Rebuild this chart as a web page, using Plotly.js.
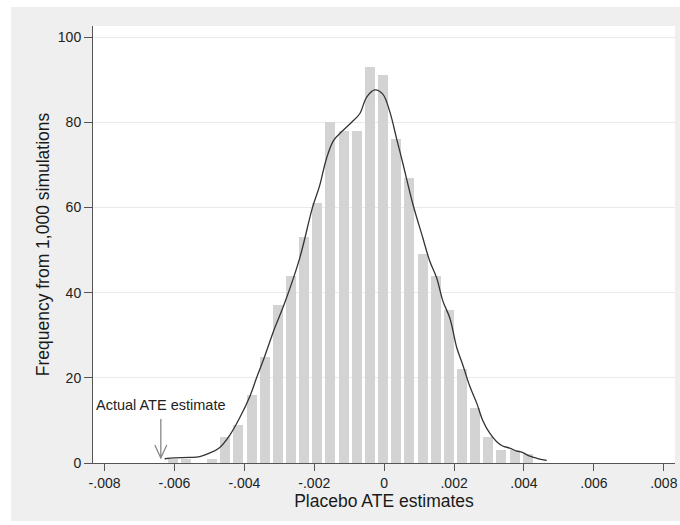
<!DOCTYPE html>
<html>
<head>
<meta charset="utf-8">
<script src="https://cdn.plot.ly/plotly-3.0.1.min.js"></script>
<style>
  html, body { margin: 0; padding: 0; background: #ffffff; width: 680px; height: 525px; overflow: hidden; }
  #chart { position: absolute; left: 11px; top: 7px; width: 669px; height: 514px; }
</style>
</head>
<body>
<div id="chart"></div>
<script>
// Histogram of placebo ATE estimates (bin centres and frequencies)
const binCenters = [-0.00605, -0.00567, -0.00530, -0.00492, -0.00455, -0.00417, -0.00379, -0.00342,
                    -0.00304, -0.00267, -0.00229, -0.00191, -0.00154, -0.00116, -0.00078, -0.00041,
                    -0.00003, 0.00034, 0.00072, 0.00110, 0.00147, 0.00185, 0.00223, 0.00260,
                    0.00298, 0.00335, 0.00373, 0.00411];
const frequency = [1, 1, 0, 1, 6, 9, 16, 25, 37, 44, 53, 61, 80, 78, 78, 93,
                   91, 76, 67, 49, 44, 36, 22, 13, 6, 3, 3, 2];

// Kernel density curve (scaled to frequency)
const kdeX = [-0.00628, -0.00600, -0.00557, -0.00528, -0.00500, -0.00471, -0.00442, -0.00414,
              -0.00385, -0.00365, -0.00342, -0.00314, -0.00285, -0.00242, -0.00205, -0.00185,
              -0.00165, -0.00145, -0.00119, -0.00093, -0.00070, -0.00050, -0.00027, -0.00004,
              0.00016, 0.00036, 0.00053, 0.00082, 0.00110, 0.00130, 0.00150, 0.00168,
              0.00188, 0.00208, 0.00225, 0.00245, 0.00265, 0.00282, 0.00302, 0.00322,
              0.00339, 0.00359, 0.00379, 0.00395, 0.00417, 0.00437, 0.00465];
const kdeY = [1.0, 1.2, 1.3, 1.5, 2.3, 3.6, 6.5, 10.5,
              15.5, 20, 25, 31.5, 37.5, 48, 60, 65,
              71.5, 75.7, 78, 80, 82, 85.9, 87.6, 86.6,
              82.5, 76, 70.5, 60.8, 53, 47.5, 43.5, 38,
              34, 27, 23, 18, 14, 10, 7, 5,
              4, 3.5, 2.8, 2.5, 1.6, 1.1, 0.6];

// Actual ATE estimate (marked with arrow)
const actualATE = -0.00639;
const actualLabel = "Actual ATE estimate";

// Axis ticks
const xTickVals = [-0.008, -0.006, -0.004, -0.002, 0, 0.002, 0.004, 0.006, 0.008];
const xTickText = ["-.008", "-.006", "-.004", "-.002", "0", ".002", ".004", ".006", ".008"];
const yTickVals = [0, 20, 40, 60, 80, 100];
const yTickText = ["0", "20", "40", "60", "80", "100"];

const xTitle = "Placebo ATE estimates";
const yTitle = "Frequency from 1,000 simulations";

const FONT = "Liberation Sans, Arial, sans-serif";

const traces = [
  {
    type: "bar",
    x: binCenters,
    y: frequency,
    width: 0.000288,
    marker: { color: "#d3d3d3", line: { width: 0 } },
    hoverinfo: "x+y",
    showlegend: false
  },
  {
    type: "scatter",
    mode: "lines",
    x: kdeX,
    y: kdeY,
    line: { color: "#333333", width: 1.3, shape: "spline", smoothing: 1 },
    showlegend: false
  }
];

const layout = {
  width: 669,
  height: 514,
  margin: { l: 82, r: 5, t: 19, b: 58 },
  paper_bgcolor: "#efefef",
  plot_bgcolor: "#ffffff",
  font: { family: FONT, size: 14, color: "#222222" },
  showlegend: false,
  bargap: 0,
  xaxis: {
    range: [-0.00833, 0.00832],
    tickmode: "array",
    tickvals: xTickVals,
    ticktext: xTickText,
    ticks: "outside",
    ticklen: 7,
    tickwidth: 1,
    tickcolor: "#555555",
    showgrid: false,
    zeroline: false,
    showline: true,
    linecolor: "#555555",
    linewidth: 1,
    tickfont: { family: FONT, size: 14, color: "#222222" },
    title: { text: xTitle, font: { family: FONT, size: 17.5, color: "#1a1a1a" }, standoff: 0 },
    automargin: false,
    fixedrange: true
  },
  yaxis: {
    range: [0, 102.6],
    tickmode: "array",
    tickvals: yTickVals,
    ticktext: yTickText,
    ticks: "outside",
    ticklen: 8,
    tickwidth: 1,
    tickcolor: "#555555",
    showgrid: true,
    gridcolor: "#eaeaea",
    gridwidth: 1,
    zeroline: false,
    showline: true,
    linecolor: "#555555",
    linewidth: 1,
    tickfont: { family: FONT, size: 14, color: "#222222" },
    title: { text: yTitle, font: { family: FONT, size: 17.5, color: "#1a1a1a" }, standoff: 3 },
    automargin: false,
    fixedrange: true
  },
  shapes: [
    {
      type: "path",
      xref: "x", yref: "y",
      xsizemode: "pixel", ysizemode: "pixel",
      xanchor: actualATE, yanchor: 0,
      path: "M 0,44 L 0,5 M -6,18 L 0,5 L 6,18",
      line: { color: "#888888", width: 1.3 },
      layer: "above"
    }
  ],
  annotations: [
    {
      x: actualATE, y: 0,
      xref: "x", yref: "y",
      text: actualLabel,
      showarrow: false,
      xanchor: "center", yanchor: "middle",
      yshift: 58,
      font: { family: FONT, size: 14.5, color: "#222222" }
    }
  ]
};

Plotly.newPlot("chart", traces, layout, { displayModeBar: false, staticPlot: true });
</script>
</body>
</html>
